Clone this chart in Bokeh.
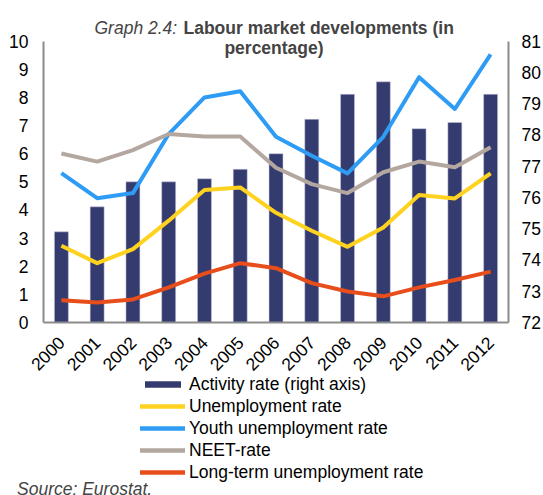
from bokeh.plotting import figure
from bokeh.models import Range1d, LinearAxis, FixedTicker, Label, Legend, LegendItem
from bokeh.layouts import column
from bokeh.embed import file_html
from bokeh.resources import INLINE
import math

years = ["2000", "2001", "2002", "2003", "2004", "2005", "2006",
         "2007", "2008", "2009", "2010", "2011", "2012"]
activity = [74.9, 75.7, 76.5, 76.5, 76.6, 76.9, 77.4, 78.5, 79.3, 79.7, 78.2, 78.4, 79.3]
unemployment = [2.73, 2.11, 2.61, 3.62, 4.71, 4.80, 3.90, 3.26, 2.69, 3.38, 4.53, 4.41, 5.30]
youth = [5.31, 4.42, 4.60, 6.70, 8.00, 8.22, 6.60, 5.93, 5.30, 6.60, 8.72, 7.59, 9.53]
neet = [6.01, 5.72, 6.13, 6.70, 6.61, 6.61, 5.50, 4.92, 4.60, 5.34, 5.72, 5.52, 6.23]
longterm = [0.79, 0.71, 0.82, 1.25, 1.74, 2.11, 1.93, 1.40, 1.10, 0.93, 1.25, 1.51, 1.81]
left_ticks = [0, 1, 2, 3, 4, 5, 6, 7, 8, 9, 10]
right_ticks = [72, 73, 74, 75, 76, 77, 78, 79, 80, 81]

FONT = "Liberation Sans"
FS = "17.5px"
AXIS_COLOR = "#8c8c8c"
C_BAR, C_UN, C_YO, C_NE, C_LT = "#343b6f", "#ffd21f", "#2e9cf5", "#b4a7a0", "#e84e1b"

# frame spans y 0..322 px; left scale 0..10 occupies 40.7..322
LEFT_TOP = 10 * 322 / (322 - 40.7)
RIGHT_TOP = 72 + 0.9 * LEFT_TOP

p = figure(x_range=years, y_range=Range1d(0, LEFT_TOP), width=543, height=382,
           output_backend="svg", toolbar_location=None,
           min_border_left=43, min_border_right=34, min_border_top=0, min_border_bottom=60)
p.extra_y_ranges = {"right": Range1d(72, RIGHT_TOP)}
p.outline_line_color = None
p.xgrid.grid_line_color = None
p.ygrid.grid_line_color = None

bars = p.vbar(x=years, top=activity, bottom=72, width=0.39, y_range_name="right",
              fill_color=C_BAR, line_color="#c9c6e0", line_width=0.5)
for series, col in ((unemployment, C_UN), (youth, C_YO), (neet, C_NE), (longterm, C_LT)):
    p.line(years, series, line_color=col, line_width=4, line_join="round")

def style_axis(ax):
    ax.axis_line_color = AXIS_COLOR
    ax.axis_line_width = 2
    ax.major_tick_line_color = None
    ax.minor_tick_line_color = None
    ax.major_tick_out = 0
    ax.major_tick_in = 0
    ax.major_label_text_font = FONT
    ax.major_label_text_font_size = FS
    ax.major_label_text_color = "#000000"

yl = p.yaxis[0]
style_axis(yl)
yl.ticker = FixedTicker(ticks=left_ticks)
yl.bounds = (0, 10)
yl.major_label_standoff = 15

yr = LinearAxis(y_range_name="right", ticker=FixedTicker(ticks=right_ticks), bounds=(72, 81))
style_axis(yr)
yr.major_label_standoff = 13
p.add_layout(yr, "right")

xa = p.xaxis[0]
style_axis(xa)
xa.major_label_orientation = math.pi / 4
xa.major_label_standoff = 17

p.add_layout(Label(x=51, y=294.5, x_units="screen", y_units="screen", text="Graph 2.4:",
                   text_font=FONT, text_font_size=FS, text_font_style="italic",
                   text_align="left", text_baseline="alphabetic"))
p.add_layout(Label(x=140, y=294.5, x_units="screen", y_units="screen",
                   text="Labour market developments (in",
                   text_font=FONT, text_font_size=FS, text_font_style="bold",
                   text_align="left", text_baseline="alphabetic"))
p.add_layout(Label(x=230.5, y=274.5, x_units="screen", y_units="screen", text="percentage)",
                   text_font=FONT, text_font_size=FS, text_font_style="bold",
                   text_align="center", text_baseline="alphabetic"))

# lower panel: legend and source (overlaps the main figure's empty bottom strip)
q = figure(width=543, height=125, x_range=Range1d(0, 543), y_range=Range1d(0, 125),
           output_backend="svg", toolbar_location=None, x_axis_type=None, y_axis_type=None,
           min_border=0, frame_align=False, styles={"margin-top": "-12px"})
q.outline_line_color = None
q.xgrid.grid_line_color = None
q.ygrid.grid_line_color = None
q.border_fill_alpha = 0
q.background_fill_alpha = 0
# legend proxies (a single off-canvas point each, never visible)
k_bar = q.vbar(x=[-50], top=[-50], bottom=[-60], width=1, fill_color=C_BAR, line_color=None)
proxies = [k_bar]
for col in (C_UN, C_YO, C_NE, C_LT):
    proxies.append(q.line(x=[-50, -40], y=[-50, -50], line_color=col, line_width=4.5,
                          line_cap="round"))

labels = ["Activity rate (right axis)", "Unemployment rate", "Youth unemployment rate",
          "NEET-rate", "Long-term unemployment rate"]
legend = Legend(items=[LegendItem(label=t, renderers=[r]) for t, r in zip(labels, proxies)],
                location=(140, 12))
legend.border_line_color = None
legend.background_fill_alpha = 0
legend.padding = 0
legend.margin = 0
legend.spacing = 0
legend.glyph_width = 45
legend.glyph_height = 8
legend.label_height = 22
legend.label_standoff = 4
legend.label_text_font = FONT
legend.label_text_font_size = FS
legend.label_text_color = "#000000"
q.add_layout(legend, "center")

q.add_layout(Label(x=16.5, y=7, x_units="screen", y_units="screen", text="Source: Eurostat.",
                   text_font=FONT, text_font_size=FS, text_font_style="italic",
                   text_align="left", text_baseline="alphabetic"))

layout = column(p, q, spacing=0)
open("out.html", "w").write(file_html(layout, INLINE))
